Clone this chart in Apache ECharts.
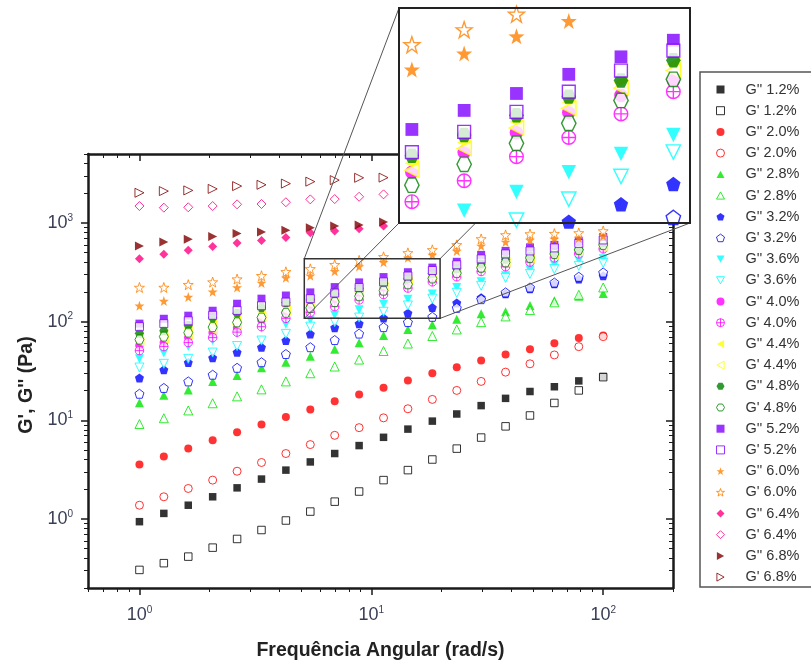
<!DOCTYPE html>
<html><head><meta charset="utf-8">
<script src="https://cdn.jsdelivr.net/npm/echarts@6/dist/echarts.min.js"></script>
<style>html,body{margin:0;padding:0;background:#fff}#c{width:811px;height:664px}</style>
</head><body><div id="c"></div>
<script>
// ---- data ----
const freq = [1, 1.274, 1.624, 2.069, 2.637, 3.36, 4.281, 5.456, 6.952, 8.859, 11.29, 14.38, 18.33, 23.36, 29.76, 37.93, 48.33, 61.58, 78.48, 100];
const strains = ['1.2%', '2.0%', '2.8%', '3.2%', '3.6%', '4.0%', '4.4%', '4.8%', '5.2%', '6.0%', '6.4%', '6.8%'];

const Gpp_12 = [0.94, 1.14, 1.38, 1.68, 2.07, 2.54, 3.13, 3.79, 4.61, 5.55, 6.73, 8.15, 9.82, 11.6, 14.1, 16.7, 19.6, 21.9, 25.1, 27.8];
const Gp_12  = [0.305, 0.357, 0.416, 0.513, 0.628, 0.774, 0.966, 1.19, 1.50, 1.90, 2.48, 3.13, 4.01, 5.17, 6.69, 8.69, 11.2, 15.0, 20.1, 27.4];
const Gpp_20 = [3.57, 4.30, 5.18, 6.28, 7.57, 9.05, 10.8, 12.9, 15.6, 18.3, 21.4, 25.4, 30.0, 34.5, 40.4, 46.4, 52.5, 60.4, 68.4, 72.3];
const Gp_20  = [1.38, 1.68, 2.04, 2.48, 3.05, 3.74, 4.61, 5.68, 7.05, 8.43, 10.6, 13.1, 16.3, 20.1, 24.8, 30.8, 37.4, 46.0, 55.8, 70.5];
const Gpp_28 = [15.1, 18.0, 20.3, 24.7, 28.5, 34.1, 38.8, 44.7, 52.4, 61.1, 72.3, 83.4, 93.3, 106, 120, 126, 146, 163, 181, 193];
const Gp_28  = [9.17, 10.5, 12.6, 14.9, 17.5, 20.6, 24.8, 30.0, 35.1, 41.3, 50.4, 60.0, 71.6, 83.4, 98.9, 113, 131, 157, 187, 222];
const Gpp_32 = [26.9, 32.5, 38.5, 43.0, 49.0, 55.1, 64.3, 75.0, 86.9, 95.4, 109, 122, 139, 155, 175, 192, 215, 242, 270, 292];
const Gp_32  = [18.6, 21.3, 24.8, 29.0, 34.1, 38.8, 47.0, 55.1, 65.1, 75.7, 88.0, 99, 112, 138, 169, 198, 222, 249, 285, 315];
const Gpp_36 = [42.0, 48.1, 55.9, 64.3, 75.2, 86.0, 94, 104, 117, 132, 150, 169, 191, 222, 254, 292, 335, 377, 418, 433];
const Gp_36  = [34.3, 37.4, 42.0, 48.6, 56.6, 64.3, 75.2, 89.0, 98.9, 110, 126, 146, 171, 196, 231, 278, 305, 341, 368, 394];
const Gpp_40 = [57.2, 61.4, 68.9, 77.4, 86.9, 104, 125, 150, 171, 194, 221, 247, 272, 305, 342, 380, 420, 460, 500, 552];
const Gp_40  = [50.9, 55.9, 61.4, 68.9, 78.3, 89.0, 108, 124, 142, 166, 188, 219, 253, 285, 322, 360, 402, 443, 486, 546];
const Gpp_44 = [72.2, 77.4, 85.0, 97.7, 110, 126, 142, 159, 182, 208, 236, 269, 302, 335, 372, 412, 450, 488, 528, 585];
const Gp_44  = [62.8, 67.3, 73.9, 83.0, 93.3, 112, 130, 152, 175, 200, 227, 259, 290, 322, 360, 400, 440, 476, 515, 570];
const Gpp_48 = [76.5, 81.1, 91.2, 110, 122, 139, 156, 167, 191, 217, 245, 272, 310, 343, 383, 430, 464, 501, 542, 628];
const Gp_48  = [65.8, 70.5, 77.4, 88.0, 98.4, 110, 123, 138, 158, 181, 206, 239, 274, 310, 352, 399, 443, 486, 534, 600];
const Gpp_52 = [95.5, 107, 115, 129, 152, 171, 184, 198, 224, 250, 283, 317, 353, 404, 475, 521, 566, 600, 658, 722];
const Gp_52  = [89.0, 95.5, 102, 116, 130, 145, 158, 171, 195, 222, 253, 290, 330, 377, 433, 486, 521, 559, 621, 673];
const Gpp_60 = [145, 162, 178, 201, 222, 247, 278, 292, 324, 362, 400, 443, 475, 521, 586, 643, 673, 690, 705, 740];
const Gp_60  = [222, 222, 237, 252, 270, 292, 320, 343, 378, 418, 454, 498, 534, 600, 689, 757, 774, 780, 793, 830];
// 6.4 % and 6.8 %: only the points not hidden behind the inset are readable
const Gpp_64 = [435, 483, 530, 579, 628, 666, 711, 798, 830, 876, 933];
const Gp_64  = [1485, 1429, 1442, 1485, 1545, 1556, 1622, 1735, 1747, 1843, 1950];
const Gpp_68 = [586, 640, 684, 731, 780, 811, 844, 897, 933, 955, 1023];
const Gp_68  = [2023, 2104, 2138, 2215, 2364, 2437, 2506, 2624, 2718, 2870, 2882];

const lossData = [Gpp_12, Gpp_20, Gpp_28, Gpp_32, Gpp_36, Gpp_40, Gpp_44, Gpp_48, Gpp_52, Gpp_60, Gpp_64, Gpp_68];
const storageData = [Gp_12, Gp_20, Gp_28, Gp_32, Gp_36, Gp_40, Gp_44, Gp_48, Gp_52, Gp_60, Gp_64, Gp_68];

// axis ticks
const xMajorTicks = [1, 10, 100];
const xMinorTicks = [0.6, 0.7, 0.8, 0.9, 2, 3, 4, 5, 6, 7, 8, 9, 20, 30, 40, 50, 60, 70, 80, 90, 200];
const yMajorTicks = [1, 10, 100, 1000];
const yMinorTicks = [0.2, 0.3, 0.4, 0.5, 0.6, 0.7, 0.8, 0.9, 2, 3, 4, 5, 6, 7, 8, 9, 20, 30, 40, 50, 60, 70, 80, 90,
                     200, 300, 400, 500, 600, 700, 800, 900, 2000, 3000, 4000, 5000];
const xRange = [0.6, 200];
const yRange = [0.2, 5000];
const insetX = [5.14, 19.8];
const insetY = [108, 435];

// ---- styles ----
const colors = ['#000000', '#ff0000', '#00e600', '#0000ff', '#00ffff', '#ff00ff', '#ffff00', '#008000', '#8000ff', '#ff8000', '#ff0080', '#800000'];
const P = {
  triUp: 'path://M0,-10L10,8L-10,8Z',
  pent: 'path://M0,-10L9.51,-3.09L5.88,8.09L-5.88,8.09L-9.51,-3.09Z',
  triDown: 'path://M-10,-8L10,-8L0,10Z',
  cplus: 'path://M-10,0A10,10,0,1,0,10,0A10,10,0,1,0,-10,0ZM-10,0L10,0M0,-10L0,10',
  triLeft: 'path://M8,-10L8,10L-10,0Z',
  hex: 'path://M-5,-8.66L5,-8.66L10,0L5,8.66L-5,8.66L-10,0Z',
  star: 'path://M0,-10L2.35,-3.24L9.51,-3.09L3.8,1.24L5.88,8.09L0,4L-5.88,8.09L-3.8,1.24L-9.51,-3.09L-2.35,-3.24Z',
  triRight: 'path://M-8,-10L-8,10L10,0Z'
};
const symbols = ['rect', 'circle', P.triUp, P.pent, P.triDown, P.cplus, P.triLeft, P.hex, 'rect', P.star, 'diamond', P.triRight];
const sizes = [7.5, 8, 9, 9, 9, 8.5, 9, 9, 8, 10, 9, 9];

const FONT = 'Liberation Sans';
const LBL = '#3a3f55';
const rich = {
  b: {fontSize: 18, color: LBL, fontFamily: FONT},
  s: {fontSize: 10, color: LBL, fontFamily: FONT, padding: [0, 0, 10, 0]}
};
function powLabel(v) { return '{b|10}{s|' + Math.round(Math.log10(v)) + '}'; }

// ---- series ----
const series = [];
const legendItems = [];
function pts(arr) { return arr.map((v, i) => [freq[i], v]); }
function styleOf(c, open, bw) { return open ? {color: '#fff', borderColor: c, borderWidth: bw} : {color: c, borderColor: c, borderWidth: 0}; }
strains.forEach((s, k) => {
  const c = colors[k];
  const nLoss = "G'' " + s, nSto = "G' " + s;
  [[nLoss, lossData[k], false], [nSto, storageData[k], true]].forEach(([name, arr, open]) => {
    legendItems.push({name, icon: symbols[k], itemStyle: styleOf(c, open, 1)});
    series.push({type: 'scatter', name, data: pts(arr), xAxisIndex: 0, yAxisIndex: 0,
      symbol: symbols[k], symbolSize: sizes[k], itemStyle: styleOf(c, open, 1), z: 2, animation: false});
  });
});
strains.forEach((s, k) => {
  const c = colors[k];
  const nLoss = "G'' " + s, nSto = "G' " + s;
  [[nLoss, lossData[k], false], [nSto, storageData[k], true]].forEach(([name, arr, open]) => {
    series.push({type: 'scatter', name, data: pts(arr), xAxisIndex: 4, yAxisIndex: 4, clip: true,
      symbol: symbols[k], symbolSize: sizes[k] * 1.6, itemStyle: styleOf(c, open, 1.4), z: 60, animation: false});
  });
});

const AX = '#1a1a1a';
function xa(pos, ticks, len, major, inside) {
  return {type: 'log', gridIndex: 0, position: pos, min: xRange[0], max: xRange[1],
    axisLine: {show: major, onZero: false, lineStyle: {color: AX, width: 2.5}},
    axisTick: {show: true, inside, length: len, customValues: ticks, lineStyle: {color: AX, width: major ? 1.5 : 1}},
    axisLabel: {show: false}, splitLine: {show: false}};
}
function ya(pos, ticks, len, major, inside) {
  return {type: 'log', gridIndex: 0, position: pos, min: yRange[0], max: yRange[1],
    axisLine: {show: major, onZero: false, lineStyle: {color: AX, width: 2.5}},
    axisTick: {show: true, inside, length: len, customValues: ticks, lineStyle: {color: AX, width: major ? 1.5 : 1}},
    axisLabel: {show: false}, splitLine: {show: false}};
}
const xBottom = xa('bottom', xMajorTicks, 7, true, false);
xBottom.axisLabel = {show: true, customValues: xMajorTicks, formatter: powLabel, rich, margin: 17};
xBottom.name = 'Frequência Angular (rad/s)';
xBottom.nameLocation = 'middle';
xBottom.nameGap = 53;
xBottom.nameTextStyle = {fontSize: 19.5, fontWeight: 'bold', color: '#222', fontFamily: FONT};
const yLeft = ya('left', yMajorTicks, 7, true, false);
yLeft.axisLabel = {show: true, customValues: yMajorTicks, formatter: powLabel, rich, margin: 15};
yLeft.name = "G', G'' (Pa)";
yLeft.nameLocation = 'middle';
yLeft.nameGap = 50;
yLeft.nameTextStyle = {fontSize: 19.5, fontWeight: 'bold', color: '#222', fontFamily: FONT, padding: [0, 28, 0, 0]};

const option = {
  animation: false,
  backgroundColor: '#fff',
  grid: [
    {left: 88, top: 154, width: 585, height: 434, outerBoundsMode: 'none'},
    {left: 399, top: 8, width: 291, height: 215, outerBoundsMode: 'none'}
  ],
  xAxis: [
    xBottom,
    xa('bottom', xMinorTicks, 4, false, false),
    xa('top', xMajorTicks, 7, true, true),
    xa('top', xMinorTicks, 4, false, true),
    {type: 'log', gridIndex: 1, min: insetX[0], max: insetX[1], show: false}
  ],
  yAxis: [
    yLeft,
    ya('left', yMinorTicks, 4, false, false),
    ya('right', yMajorTicks, 7, true, true),
    ya('right', yMinorTicks, 4, false, true),
    {type: 'log', gridIndex: 1, min: insetY[0], max: insetY[1], show: false}
  ],
  legend: {
    orient: 'vertical', left: 711, top: 77, itemWidth: 8, itemHeight: 8, itemGap: 6.2,
    data: legendItems,
    textStyle: {fontSize: 14.5, fontFamily: FONT, color: '#333', lineHeight: 15, padding: [0, 0, 0, 16]}
  },
  series
};
const chart = echarts.init(document.getElementById('c'));
chart.setOption(option);

// zoom box, connectors, inset frame and legend frame, positioned through the axes
const px = (ax, x, y) => chart.convertToPixel({xAxisIndex: ax, yAxisIndex: ax}, [x, y]);
const mTL = px(0, insetX[0], insetY[1]), mBR = px(0, insetX[1], insetY[0]);
const iTL = px(4, insetX[0], insetY[1]), iBR = px(4, insetX[1], insetY[0]);
const mTR = [mBR[0], mTL[1]], mBL = [mTL[0], mBR[1]];
const iTR = [iBR[0], iTL[1]], iBL = [iTL[0], iBR[1]];
const line = (a, b) => ({type: 'line', z: 45, shape: {x1: a[0], y1: a[1], x2: b[0], y2: b[1]}, style: {stroke: '#555', lineWidth: 1}});
chart.setOption({graphic: [
  line(mTL, iTL), line(mTR, iTR), line(mBL, iBL), line(mBR, iBR),
  {type: 'rect', z: 46, shape: {x: mTL[0], y: mTL[1], width: mBR[0] - mTL[0], height: mBR[1] - mTL[1]},
   style: {fill: null, stroke: '#333', lineWidth: 1.5}},
  {type: 'rect', z: 50, shape: {x: iTL[0], y: iTL[1], width: iBR[0] - iTL[0], height: iBR[1] - iTL[1]},
   style: {fill: '#fff'}},
  {type: 'rect', z: 70, shape: {x: iTL[0], y: iTL[1], width: iBR[0] - iTL[0], height: iBR[1] - iTL[1]},
   style: {fill: null, stroke: '#222', lineWidth: 2}},
  {type: 'rect', z: 5, shape: {x: 700, y: 72, width: 140, height: 515},
   style: {fill: null, stroke: '#555', lineWidth: 1.5}}
]});
</script>
</body></html>
